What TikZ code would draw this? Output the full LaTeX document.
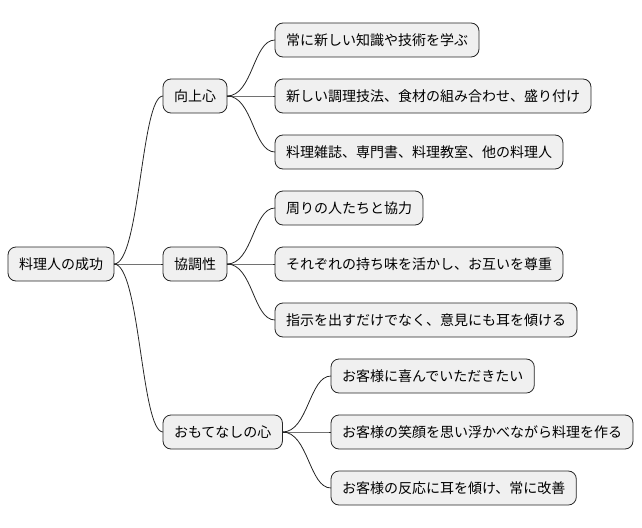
\documentclass[tikz,border=0pt]{standalone}
\usepackage{fontspec}
\setmainfont{Noto Sans CJK JP}
\begin{document}
\begin{tikzpicture}[x=1pt, y=-1pt,
    topic/.style={rectangle, rounded corners=8pt, draw=black!85, fill=black!6, anchor=west,
      minimum height=34pt, inner xsep=11pt, outer sep=0pt, line width=0.8pt, font=\fontsize{14}{16}\selectfont},
    link/.style={draw=black!85, line width=0.8pt}
]
\useasboundingbox (0,0) rectangle (642,527);

\node[topic] (root) at (8,264) {料理人の成功};

\node[topic] (kojo) at (163,96) {向上心};
\node[topic] (kyocho) at (163,264) {協調性};
\node[topic] (omote) at (163,432) {おもてなしの心};

\node[topic] (k1) at (275,40) {常に新しい知識や技術を学ぶ};
\node[topic] (k2) at (275,96) {新しい調理技法、食材の組み合わせ、盛り付け};
\node[topic] (k3) at (275,152) {料理雑誌、専門書、料理教室、他の料理人};

\node[topic] (c1) at (275,208) {周りの人たちと協力};
\node[topic] (c2) at (275,264) {それぞれの持ち味を活かし、お互いを尊重};
\node[topic] (c3) at (275,320) {指示を出すだけでなく、意見にも耳を傾ける};

\node[topic] (o1) at (331,376) {お客様に喜んでいただきたい};
\node[topic] (o2) at (331,432) {お客様の笑顔を思い浮かべながら料理を作る};
\node[topic] (o3) at (331,488) {お客様の反応に耳を傾け、常に改善};

\foreach \p/\c in {root/kojo, root/kyocho, root/omote,
    kojo/k1, kojo/k2, kojo/k3, kyocho/c1, kyocho/c2, kyocho/c3,
    omote/o1, omote/o2, omote/o3}
  \draw[link] (\p.east) .. controls +(26,0) and +(-22,0) .. (\c.west);
\end{tikzpicture}
\end{document}
